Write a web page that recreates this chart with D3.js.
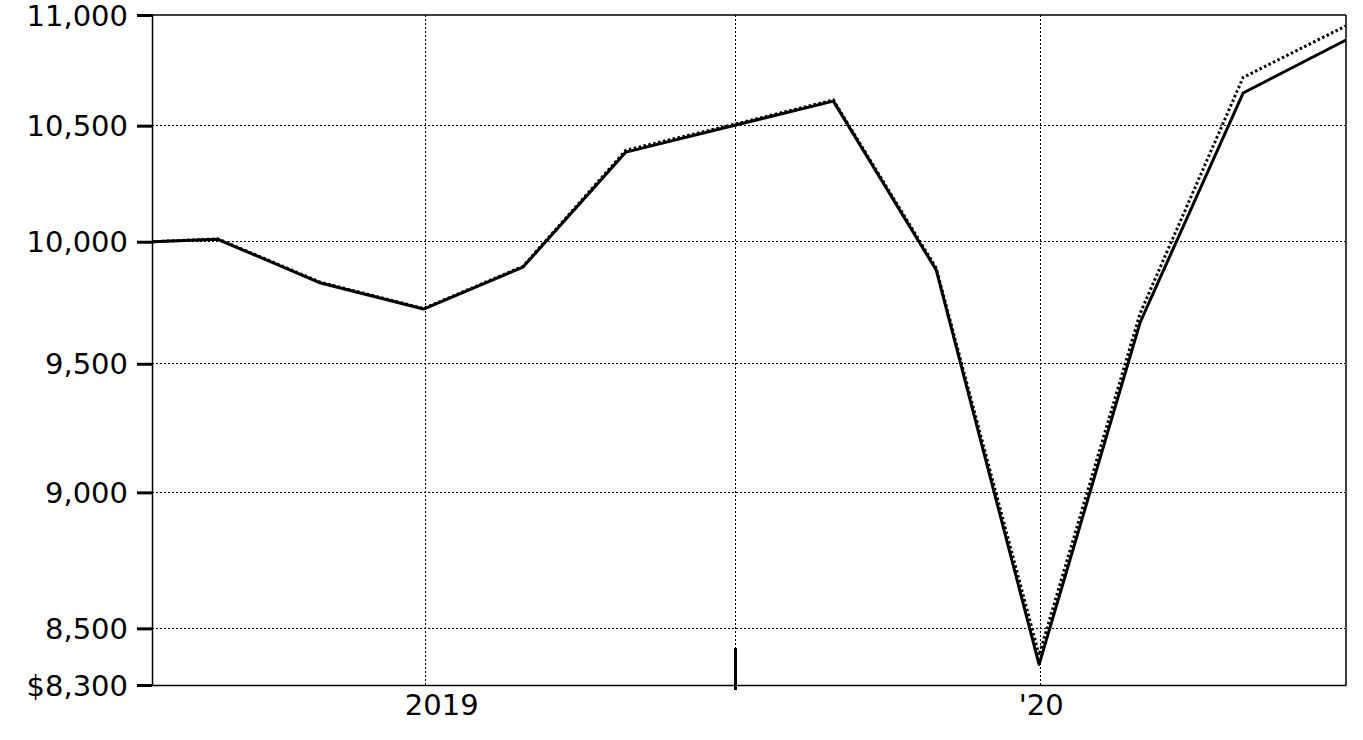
<!DOCTYPE html>
<html>
<head>
<meta charset="utf-8">
<script src="https://cdn.jsdelivr.net/npm/d3@7/dist/d3.min.js"></script>
<style>
  html, body { margin: 0; padding: 0; background: #fff; }
  svg { display: block; }
  text { font-family: "DejaVu Sans", Verdana, sans-serif; fill: #000; }
</style>
</head>
<body>
<svg id="chart" width="1363" height="740"></svg>
<script>
// ---- data ----
const dates = ["2018-07-23","2018-08-31","2018-10-31","2018-12-31","2019-02-28","2019-04-30",
               "2019-06-30","2019-08-31","2019-10-31","2019-12-31","2020-02-29","2020-04-30","2020-06-30"];
const fundValues  = [10000, 10010, 9828, 9721, 9894, 10384, 10495, 10609, 9882, 8372, 9668, 10645, 10885];
const indexValues = [10000, 10012, 9831, 9723, 9897, 10392, 10500, 10614, 9890, 8405, 9705, 10715, 10950];
const yTicks = [8300, 8500, 9000, 9500, 10000, 10500, 11000];
const xTickDates = ["2019-01-01", "2019-07-04", "2020-01-01"];
const xTickLabels = ["2019", "", "'20"];
const markerDate = "2019-07-04";

// ---- layout ----
const W = 1363, H = 740;
const m = { left: 152, top: 15, right: 17, bottom: 55 };
const iw = W - m.left - m.right, ih = H - m.top - m.bottom;
const parse = d3.utcParse("%Y-%m-%d");

const svg = d3.select("#chart");
const g = svg.append("g").attr("transform", `translate(${m.left},${m.top})`);

const x = d3.scaleUtc().domain([parse(dates[0]), parse(dates[dates.length - 1])]).range([0, iw]);
const y = d3.scaleLog().domain([8300, 11000]).range([ih, 0]);

// gridlines
g.append("g").selectAll("line").data(yTicks.filter(v => v !== 8300 && v !== 11000)).join("line")
  .attr("x1", 0).attr("x2", iw).attr("y1", d => y(d)).attr("y2", d => y(d))
  .attr("stroke", "#000").attr("stroke-width", 1).attr("stroke-dasharray", "2,2").attr("shape-rendering", "crispEdges");
g.append("g").selectAll("line").data(xTickDates).join("line")
  .attr("x1", d => x(parse(d))).attr("x2", d => x(parse(d))).attr("y1", 0).attr("y2", ih)
  .attr("stroke", "#000").attr("stroke-width", 1).attr("stroke-dasharray", "2,2").attr("shape-rendering", "crispEdges");

// frame (top & right)
g.append("line").attr("x1", 0).attr("x2", iw).attr("y1", 0).attr("y2", 0)
  .attr("stroke", "#000").attr("stroke-width", 1.5);
g.append("line").attr("x1", iw).attr("x2", iw).attr("y1", 0).attr("y2", ih)
  .attr("stroke", "#000").attr("stroke-width", 1.5);

// y axis
const yAxis = d3.axisLeft(y).tickValues(yTicks).tickSize(15).tickPadding(9)
  .tickFormat((d, i) => (i === 0 ? "$" : "") + d3.format(",")(d));
const ya = g.append("g").call(yAxis);
ya.select(".domain").attr("stroke-width", 1.5);
ya.selectAll(".tick line").attr("stroke-width", 3);
ya.selectAll(".tick text").style("font-size", "29px").attr("font-family", null).attr("dy", "0.35em");

// x axis
const xAxis = d3.axisBottom(x).tickValues(xTickDates.map(parse)).tickSize(0).tickPadding(9)
  .tickFormat((d, i) => xTickLabels[i]);
const xa = g.append("g").attr("transform", `translate(0,${ih})`).call(xAxis);
xa.select(".domain").attr("stroke-width", 1.5);
xa.selectAll(".tick text").style("font-size", "29px").attr("font-family", null)
  .attr("dx", (d, i) => i === 0 ? 16 : 0);

// mid-year marker
g.append("line")
  .attr("x1", x(parse(markerDate))).attr("x2", x(parse(markerDate)))
  .attr("y1", ih - 37).attr("y2", ih + 5)
  .attr("stroke", "#000").attr("stroke-width", 3);

// lines
const line = vals => d3.line().x((d, i) => x(parse(dates[i]))).y(d => y(d))(vals);
g.append("path").attr("d", line(fundValues)).attr("fill", "none")
  .attr("stroke", "#000").attr("stroke-width", 3).attr("stroke-linejoin", "round");
g.append("path").attr("d", line(indexValues)).attr("fill", "none")
  .attr("stroke", "#000").attr("stroke-width", 3).attr("stroke-dasharray", "2.5,2.5");
</script>
</body>
</html>
